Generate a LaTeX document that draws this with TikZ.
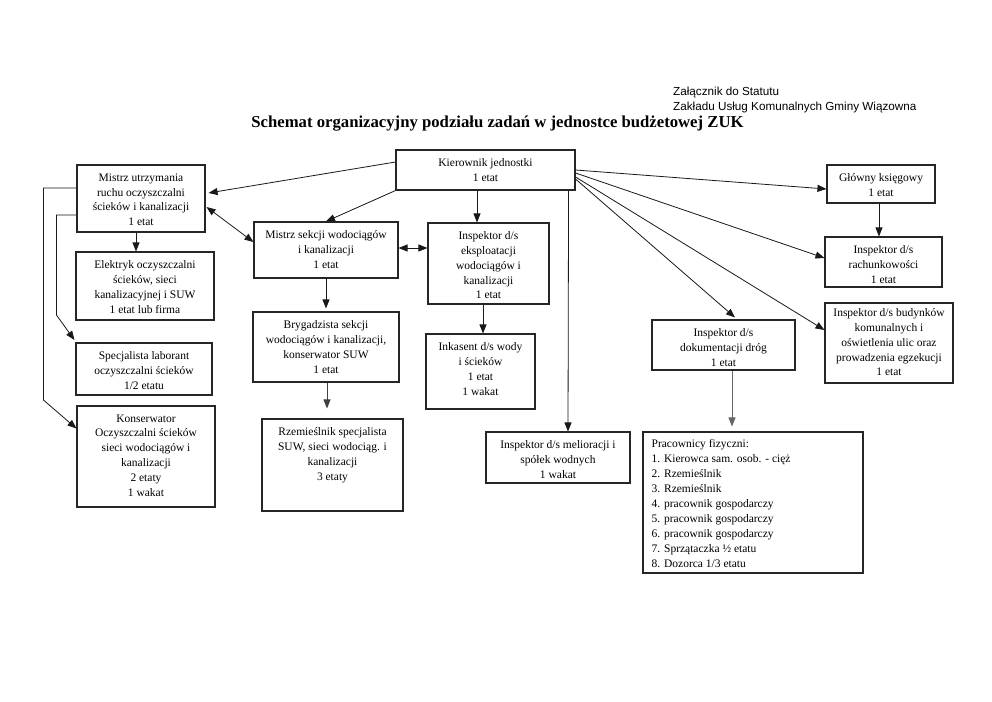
\documentclass[tikz,border=0pt]{standalone}
\usepackage{fontspec}
\setmainfont{Liberation Serif}
\newfontfamily\arialf{Liberation Sans}
\usetikzlibrary{arrows.meta,calc}
\begin{document}
\begin{tikzpicture}[x=1pt,y=-1pt,
  box/.style={draw=black!85,line width=1.1pt,rectangle,inner sep=0pt},
  txt/.style={align=center,font=\fontsize{11.5}{14.8}\selectfont,inner xsep=2pt,inner ysep=9pt,anchor=north},
  arr/.style={line width=0.8pt,draw=black!90,-{Triangle[length=9pt,width=7pt]}},
  darr/.style={line width=0.8pt,draw=black!90,{Triangle[length=9pt,width=7pt]}-{Triangle[length=9pt,width=7pt]}},
  line/.style={line width=0.9pt,draw=black!85}]
\useasboundingbox (0,0) rectangle (992,701);
\fill[white] (0,0) rectangle (992,701);
% header
\node[font=\arialf\fontsize{11.7}{15}\selectfont,anchor=west,align=left,inner sep=0pt] (hdr) at (673,99.5) {Załącznik do Statutu\\Zakładu Usług Komunalnych Gminy Wiązowna};
\node[font=\bfseries\fontsize{16.7}{19}\selectfont,inner sep=0pt] (title) at (497.5,123.5) {Schemat organizacyjny podziału zadań w jednostce budżetowej ZUK};
% boxes
\node[box,minimum width=179pt,minimum height=40pt] (kier) at (485.5,170) {};
\node[txt] at (kier.north) {Kierownik jednostki\\1 etat};
\node[box,minimum width=128pt,minimum height=67pt] (mu) at (141,198.5) {};
\node[txt] at (mu.north) {Mistrz utrzymania\\ruchu oczyszczalni\\ścieków i kanalizacji\\1 etat};
\node[box,minimum width=138pt,minimum height=68pt] (el) at (145,286) {};
\node[txt] at (el.north) {Elektryk oczyszczalni\\ścieków, sieci\\kanalizacyjnej i SUW\\1 etat lub firma};
\node[box,minimum width=136pt,minimum height=52pt] (spec) at (144,369) {};
\node[txt] at (spec.north) {Specjalista laborant\\oczyszczalni ścieków\\1/2 etatu};
\node[box,minimum width=138pt,minimum height=101pt] (kons) at (146,456.5) {};
\node[txt] at (kons.north) {Konserwator\\Oczyszczalni ścieków\\sieci wodociągów i\\kanalizacji\\2 etaty\\1 wakat};
\node[box,minimum width=144pt,minimum height=56pt] (ms) at (326,250) {};
\node[txt] at (ms.north) {Mistrz sekcji wodociągów\\i kanalizacji\\1 etat};
\node[box,minimum width=146pt,minimum height=70pt] (bryg) at (326,347) {};
\node[txt] at (bryg.north) {Brygadzista sekcji\\wodociągów i kanalizacji,\\konserwator SUW\\1 etat};
\node[box,minimum width=141pt,minimum height=92pt] (rzem) at (332.5,465) {};
\node[txt] at (rzem.north) {Rzemieślnik specjalista\\SUW, sieci wodociąg. i\\kanalizacji\\3 etaty};
\node[box,minimum width=121pt,minimum height=81pt] (ie) at (488.5,263.5) {};
\node[txt] at (ie.north) {Inspektor d/s\\eksploatacji\\wodociągów i\\kanalizacji\\1 etat};
\node[box,minimum width=109pt,minimum height=75pt] (ink) at (480.5,371.5) {};
\node[txt] at (ink.north) {Inkasent d/s wody\\i ścieków\\1 etat\\1 wakat};
\node[box,minimum width=144pt,minimum height=51pt] (mel) at (558,457.5) {};
\node[txt] at (mel.north) {Inspektor d/s melioracji i\\spółek wodnych\\1 wakat};
\node[box,minimum width=108pt,minimum height=38pt] (gk) at (881,184) {};
\node[txt] at (gk.north) {Główny księgowy\\1 etat};
\node[box,minimum width=117pt,minimum height=50pt] (rach) at (883.5,262) {};
\node[txt] at (rach.north) {Inspektor d/s\\rachunkowości\\1 etat};
\node[box,minimum width=128pt,minimum height=80pt] (bud) at (889,343) {};
\node[txt,inner ysep=6pt] at (bud.north) {Inspektor d/s budynków\\komunalnych i\\oświetlenia ulic oraz\\prowadzenia egzekucji\\1 etat};
\node[box,minimum width=143pt,minimum height=50pt] (dok) at (723.5,345) {};
\node[txt] at (dok.north) {Inspektor d/s\\dokumentacji dróg\\1 etat};
\node[box,minimum width=220pt,minimum height=141pt] (prac) at (753,502.5) {};
\node[align=left,anchor=north west,font=\fontsize{11.5}{15}\selectfont,inner sep=0pt] at ([xshift=9pt,yshift=-7.5pt]prac.north west) {Pracownicy fizyczni:\\1. Kierowca sam. osob. - cięż\\2. Rzemieślnik\\3. Rzemieślnik\\4. pracownik gospodarczy\\5. pracownik gospodarczy\\6. pracownik gospodarczy\\7. Sprzątaczka ½ etatu\\8. Dozorca 1/3 etatu};
% connectors
\draw[arr] ([yshift=8pt]kier.west) -- ([xshift=3pt,yshift=5.5pt]mu.east);
\draw[arr] (kier.south west) -- (ms.north);
\draw[arr] ([xshift=-8.5pt]kier.south) -- ([xshift=-11.5pt]ie.north);
\draw[darr] ([xshift=1pt,yshift=-8.5pt]mu.east) -- ([yshift=8pt]ms.west);
\draw[darr] ([yshift=2pt]ms.east) -- ([yshift=2pt]ms.east -| ie.west);
\draw[arr] ([xshift=-5pt]mu.south) -- ([xshift=-5pt]mu.south |- el.north);
\draw[arr] (ms.south) -- ([yshift=3pt]bryg.north);
\coordinate (rzemtip) at ($(rzem.north -| bryg.south)+(1pt,10pt)$);
\draw[arr,draw=black!75] ([xshift=1pt]bryg.south) -- (rzemtip);
\draw[arr] ([xshift=-5.5pt]ie.south) -- ([xshift=2.5pt]ink.north);
\draw[arr] ([xshift=-7pt]kier.south east) -- ([xshift=10pt]mel.north);
\draw[arr] ([yshift=0pt]kier.east) -- ([yshift=-5pt]gk.west);
\draw[arr] ([yshift=-3pt]kier.east) -- ([yshift=4pt]rach.west);
\draw[arr] ([yshift=-7pt]kier.east) -- ([yshift=13pt]bud.west);
\draw[arr] ([yshift=-9pt]kier.east) -- ([xshift=11.5pt,yshift=2pt]dok.north);
\draw[arr] ([xshift=-2pt]gk.south) -- ([xshift=-4.5pt]rach.north);
\draw[arr,draw=black!60] ([xshift=8.5pt]dok.south) -- ([xshift=-21pt,yshift=5pt]prac.north);
\draw[arr] ([yshift=10.5pt]mu.west) -- ++(-33pt,0) -- ++(0,-212pt) -- ([yshift=28pt]kons.west);
\draw[arr] ([yshift=-16.5pt]mu.west) -- ++(-20pt,0) -- ++(0,-100pt) -- ([xshift=-1pt,yshift=29pt]spec.west);
\end{tikzpicture}
\end{document}
